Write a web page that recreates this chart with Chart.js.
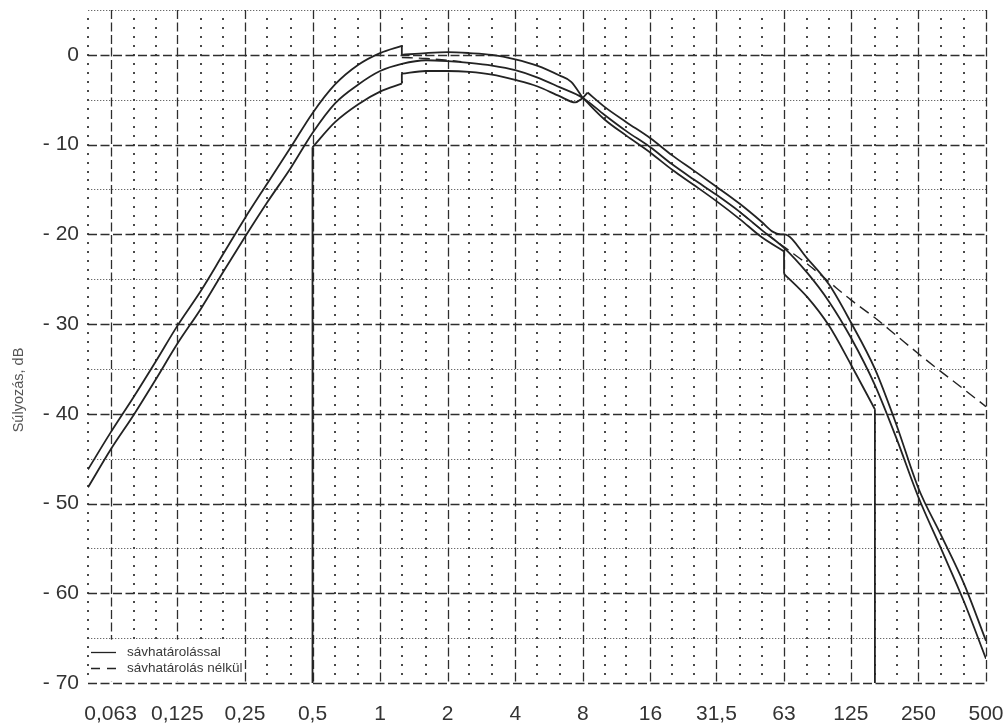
<!DOCTYPE html>
<html lang="hu">
<head>
<meta charset="utf-8">
<title>Súlyozási görbe</title>
<script src="https://cdn.jsdelivr.net/npm/chart.js@4/dist/chart.umd.min.js"></script>
<style>
  html, body { margin: 0; padding: 0; background: #fff; }
  #wrap { width: 1008px; height: 727px; }
</style>
</head>
<body>
<div id="wrap"><canvas id="c" width="1008" height="727"></canvas></div>
<script>
// Octave tick positions (Hz) and their printed labels
const octaveTicks = [0.063, 0.125, 0.25, 0.5, 1, 2, 4, 8, 16, 31.5, 63, 125, 250, 500];
const octaveLabels = ['0,063', '0,125', '0,25', '0,5', '1', '2', '4', '8', '16', '31,5', '63', '125', '250', '500'];
// Third-octave positions between the octave lines (dotted grid)
const thirdOctaveLines = [0.05, 0.08, 0.1, 0.16, 0.2, 0.315, 0.4, 0.63, 0.8, 1.25, 1.6, 2.5, 3.15, 5, 6.3,
  10, 12.5, 20, 25, 40, 50, 80, 100, 160, 200, 315, 400];
// Level ticks (dB)
const dbMajor = [-70, -60, -50, -40, -30, -20, -10, 0];
const dbMinor = [-65, -55, -45, -35, -25, -15, -5, 5];

// Upper tolerance limit; a null marks a jump drawn as a straight edge
const upperFreq = [0.05, 0.063, 0.08, 0.1, 0.125, 0.16, 0.2, 0.25, 0.315, 0.4, 0.5, 0.63, 0.8, 1, 1.25, 1.25, 1.25,
  1.6, 2, 2.5, 3.15, 4, 5, 6.3, 7.1, 8, 8, 8.4, 10, 12.5, 16, 20, 25, 31.5, 40, 50, 56, 61, 63, 80, 100, 125,
  160, 200, 250, 315, 400, 500];
const upperDb = [-46.2, -42.1, -38.1, -34.2, -30.2, -26.2, -22.2, -18.2, -14.3, -10.3, -6.5, -3.3, -1.1, 0.2, 1.0, null, 0.0,
  0.2, 0.3, 0.2, 0.0, -0.5, -1.2, -2.3, -3.0, -4.8, null, -4.2, -5.8, -7.5, -9.3, -11.2, -12.9, -14.7, -16.6, -18.6, -19.7, -20.0, -20.0, -22.7, -25.6, -29.8,
  -35.0, -41.3, -48.3, -53.5, -59.0, -65.3];

// Nominal weighting with band limiting
const midFreq = [0.05, 0.063, 0.08, 0.1, 0.125, 0.16, 0.2, 0.25, 0.315, 0.4, 0.5, 0.63, 0.8, 1, 1.25, 1.6, 2,
  2.5, 3.15, 4, 5, 6.3, 8, 10, 12.5, 16, 20, 25, 31.5, 40, 50, 63, 80, 100, 125, 160, 200, 250, 315, 400, 500];
const midDb = [-48.2, -44.0, -40.1, -36.2, -32.2, -28.2, -24.2, -20.3, -16.4, -12.6, -8.7, -5.4, -3.3, -1.8, -1.0, -0.6, -0.7,
  -0.9, -1.2, -1.7, -2.5, -3.6, -4.8, -6.7, -8.5, -10.3, -12.2, -13.9, -15.6, -17.5, -19.5, -21.5, -24.3, -27.5, -31.5, -36.8, -42.8, -49.3, -55.0, -61.0, -67.3];

// Lower tolerance limit (vertical edges at 0,5 Hz and 160 Hz, jumps at 1,25 Hz and 63 Hz)
const lowerFreq = [0.5, 0.5, 0.5, 0.63, 0.8, 1, 1.25, 1.25, 1.25, 1.6, 2, 2.5, 3.15, 4, 5, 6.3, 7.4, 8, 8, 8, 10, 12.5, 16, 20,
  25, 31.5, 40, 50, 63, 63, 63, 80, 100, 125, 160, 160, 160];
const lowerDb = [-70, null, -10.3, -7.5, -5.5, -4.1, -3.2, null, -2.1, -1.8, -1.8, -1.9, -2.2, -2.8, -3.5, -4.6, -5.3, -4.8, null, -4.8, -7.2, -9.0, -10.9, -12.8,
  -14.5, -16.3, -18.3, -20.3, -21.9, null, -24.4, -27.0, -30.2, -34.5, -39.5, null, -70];

// Nominal weighting without band limiting (null = hidden under the solid curve)
const noLimitFreq = [1.25, 1.6, 2, 2.3, 2.4, 40, 50, 63, 80, 100, 125, 160, 200, 250, 315, 400, 500];
const noLimitDb = [-0.3, -0.4, -0.6, -0.75, null, -17.5, -19.5, -21.4, -23.3, -25.3, -27.3, -29.3, -31.3, -33.3, -35.3, -37.3, -39.2];

const legendTexts = ['sávhatárolással', 'sávhatárolás nélkül'];
const yTitle = 'Súlyozás, dB';

const pts = (fs, vs) => fs.map((f, i) => ({ x: f, y: vs[i] }));
// straight edges joining the two sides of every null in a tolerance curve
const jumpEdges = (fs, vs) => {
  const out = [];
  vs.forEach((v, i) => {
    if (v === null && i > 0 && i < vs.length - 1) {
      out.push({ x: fs[i - 1], y: vs[i - 1] }, { x: fs[i + 1], y: vs[i + 1] }, { x: fs[i], y: null });
    }
  });
  return out;
};

const FONT = "'Liberation Sans', Arial, sans-serif";
const INK = '#232323';

const paperGrid = {
  id: 'paperGrid',
  beforeDatasetsDraw(chart) {
    const { ctx, chartArea: a, scales: { x, y } } = chart;
    const seg = (x1, y1, x2, y2) => { ctx.beginPath(); ctx.moveTo(x1, y1); ctx.lineTo(x2, y2); ctx.stroke(); };
    ctx.save();
    // fine dotted half-decade lines
    ctx.strokeStyle = '#6a6a6a'; ctx.lineWidth = 1; ctx.setLineDash([1.3, 1.7]);
    dbMinor.forEach(v => { const p = Math.round(y.getPixelForValue(v)) + 0.5; seg(a.left, p, a.right, p); });
    // third-octave columns: one dot per dB
    ctx.fillStyle = '#4a4a4a';
    thirdOctaveLines.forEach(f => {
      const px = Math.round(x.getPixelForValue(f));
      for (let d = -69; d <= 4; d++) ctx.fillRect(px - 1, Math.round(y.getPixelForValue(d)) - 1, 2, 2);
    });
    // dashed major lines
    ctx.strokeStyle = '#2e2e2e'; ctx.lineWidth = 1.3; ctx.setLineDash([9, 3.5]);
    dbMajor.forEach(v => { const p = Math.round(y.getPixelForValue(v)) + 0.5; seg(a.left, p, a.right, p); });
    octaveTicks.forEach(f => { const p = Math.round(x.getPixelForValue(f)) + 0.5; seg(p, a.top, p, a.bottom); });
    ctx.setLineDash([]);
    // legend field
    ctx.fillStyle = '#fff';
    ctx.fillRect(a.left + 1, y.getPixelForValue(-65) + 1.5, 101, a.bottom - y.getPixelForValue(-65) - 3);
    ctx.fillRect(a.left + 100, y.getPixelForValue(-65.6), 49, 32);
    ctx.restore();
  },
  afterDatasetsDraw(chart) {
    const { ctx, chartArea: a } = chart;
    ctx.save();
    const lx = a.left + 3, tx = a.left + 39;
    ctx.strokeStyle = INK; ctx.lineWidth = 1.3;
    ctx.beginPath(); ctx.moveTo(lx, 652.5); ctx.lineTo(lx + 25, 652.5); ctx.stroke();
    ctx.setLineDash([9, 7]);
    ctx.beginPath(); ctx.moveTo(lx, 668.5); ctx.lineTo(lx + 25, 668.5); ctx.stroke();
    ctx.setLineDash([]);
    ctx.fillStyle = '#3a3a3a'; ctx.font = '13.5px ' + FONT; ctx.textBaseline = 'alphabetic';
    ctx.fillText(legendTexts[0], tx, 656);
    ctx.fillText(legendTexts[1], tx, 672);
    // axis title
    ctx.translate(19, 390); ctx.rotate(-Math.PI / 2);
    ctx.textAlign = 'center'; ctx.textBaseline = 'middle';
    ctx.fillStyle = '#555'; ctx.font = '14.5px ' + FONT;
    ctx.fillText(yTitle, 0, 0);
    ctx.restore();
  }
};

const solid = (label, data) => ({
  label, data, borderColor: INK, borderWidth: 1.8, pointRadius: 0,
  cubicInterpolationMode: 'monotone', fill: false, spanGaps: false
});

new Chart(document.getElementById('c'), {
  type: 'line',
  data: {
    datasets: [
      solid('felső tűrés', pts(upperFreq, upperDb)),
      solid('névleges', pts(midFreq, midDb)),
      solid('alsó tűrés', pts(lowerFreq, lowerDb)),
      Object.assign(solid('tűrés ugrások', jumpEdges(upperFreq, upperDb).concat(jumpEdges(lowerFreq, lowerDb))),
        { cubicInterpolationMode: 'default', tension: 0 }),
      Object.assign(solid('sávhatárolás nélkül', pts(noLimitFreq, noLimitDb)), { borderDash: [11, 6], borderWidth: 1.4 })
    ]
  },
  options: {
    responsive: false,
    animation: false,
    devicePixelRatio: 1,
    layout: { padding: { top: 10, right: 22, left: 0, bottom: 0 } },
    plugins: { legend: { display: false }, tooltip: { enabled: false } },
    scales: {
      x: {
        type: 'logarithmic', min: 0.05, max: 500,
        afterBuildTicks: s => { s.ticks = octaveTicks.map(v => ({ value: v })); },
        afterFit: s => { s.height = 44; s.paddingLeft = 0; s.paddingRight = 0; },
        grid: { display: false }, border: { display: false },
        ticks: {
          autoSkip: false, maxRotation: 0, padding: 11,
          color: '#333', font: { family: FONT, size: 21 },
          callback: (v, i) => octaveLabels[i]
        }
      },
      y: {
        type: 'linear', min: -70, max: 5,
        afterBuildTicks: s => { s.ticks = dbMajor.map(v => ({ value: v })); },
        afterFit: s => { s.width = 88; s.paddingTop = 0; s.paddingBottom = 0; },
        grid: { display: false }, border: { display: false },
        ticks: {
          padding: 1, color: '#333', font: { family: FONT, size: 21 },
          callback: v => (v === 0 ? '0' : '- ' + Math.abs(v))
        }
      }
    }
  },
  plugins: [paperGrid]
});
</script>
</body>
</html>
